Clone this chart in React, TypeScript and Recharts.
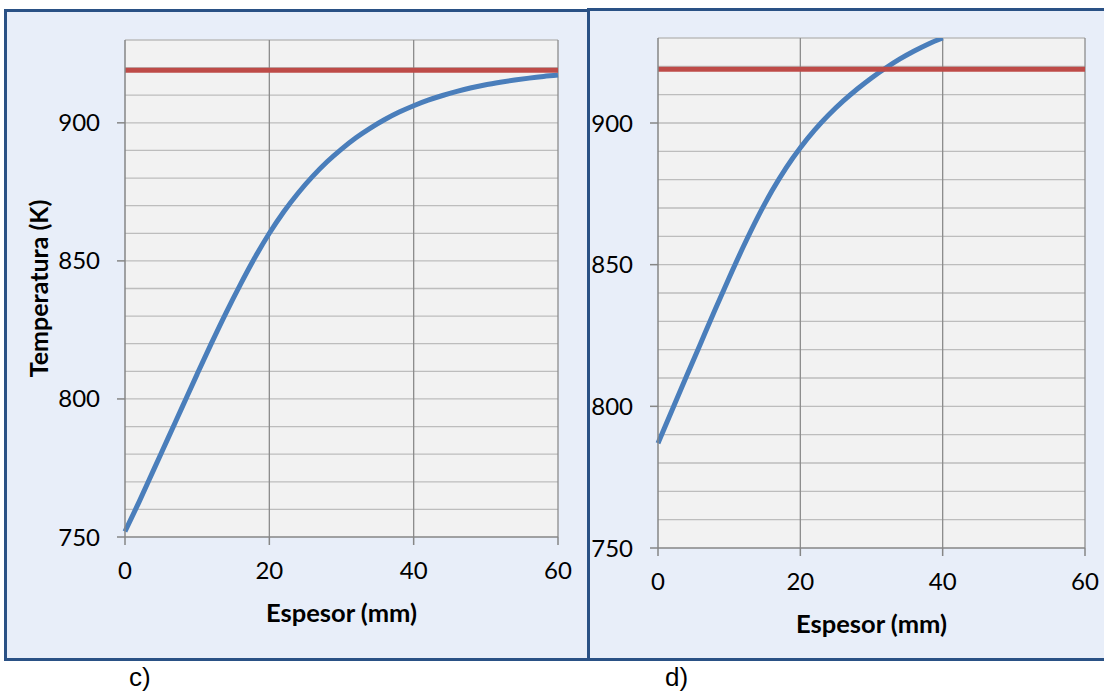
import { LineChart, CartesianGrid, XAxis, YAxis, Line, Label } from "recharts";

// espesor (mm) y temperatura (K)
const espesorC = [0, 2, 4, 6, 8, 10, 12, 14, 16, 18, 20, 22, 24, 26, 28, 30, 32, 34, 36, 38, 40, 42, 44, 46, 48, 50, 52, 54, 56, 58, 60];
const temperaturaC = [752, 763, 774.5, 786, 797.5, 809, 820.3, 831.2, 841.5, 851.2, 860, 867.8, 874.6, 880.6, 885.9, 890.5, 894.6, 898.1, 901.2, 903.9, 906.2, 908.2, 909.9, 911.4, 912.7, 913.8, 914.7, 915.5, 916.2, 916.8, 917.3];

const espesorD = [0, 2, 4, 6, 8, 10, 12, 14, 16, 18, 20, 22, 24, 26, 28, 30, 32, 34, 36, 38, 40];
const temperaturaD = [787, 798.8, 810.6, 822.3, 834, 845.4, 856.4, 866.7, 876, 884.2, 891.3, 897.5, 902.9, 907.7, 912, 915.9, 919.4, 922.6, 925.4, 927.9, 930];

const limiteX = [0, 60];
const limiteTemp = 919;

const xTicks = [0, 20, 40, 60];
const xGrid = [20, 40, 60];
const yTicks = [750, 800, 850, 900];
const yGrid = [760, 770, 780, 790, 800, 810, 820, 830, 840, 850, 860, 870, 880, 890, 900, 910, 920, 930];

const AXIS = "#868686";
const FONT = "Lato, 'Open Sans', sans-serif";

interface PanelChartProps {
	xs: number[];
	temps: number[];
	width: number;
	height: number;
	yAxisWidth: number;
	margin: { top: number; right: number; left: number; bottom: number };
	showYTitle?: boolean;
}

function PanelChart({ xs, temps, width, height, yAxisWidth, margin, showYTitle }: PanelChartProps) {
	const data = xs.map((x, i) => ({ x, t: temps[i] }));
	const limite = limiteX.map((x) => ({ x, t: limiteTemp }));

	return (
		<LineChart width={width} height={height} margin={margin} style={{ fontFamily: FONT }}>
			<CartesianGrid horizontalValues={yGrid} vertical={false} stroke="#bdbdbd" strokeWidth={1.3} fill="#f2f2f2" fillOpacity={1} />
			<CartesianGrid verticalValues={xGrid} horizontal={false} stroke="#8c8c8c" strokeWidth={1.3} />
			<XAxis
				type="number"
				dataKey="x"
				domain={[0, 60]}
				ticks={xTicks}
				height={100}
				tickSize={8}
				tickMargin={17}
				stroke={AXIS}
				strokeWidth={1.5}
				tick={{ fill: "#000", fontSize: 24, fontFamily: FONT }}
			>
				<Label
					content={(props: any) => {
						const vb = props.viewBox;
						return (
							<text x={vb.x + vb.width / 2} y={vb.y + 75} textAnchor="middle" dominantBaseline="central" fontWeight="bold" fontSize={25.5} fontFamily={FONT} fill="#000">
								Espesor (mm)
							</text>
						);
					}}
				/>
			</XAxis>
			<YAxis
				type="number"
				domain={[750, 930]}
				ticks={yTicks}
				allowDataOverflow
				width={yAxisWidth}
				tickSize={8}
				tickMargin={17}
				stroke={AXIS}
				strokeWidth={1.5}
				tick={{ fill: "#000", fontSize: 24, fontFamily: FONT }}
			>
				{showYTitle && (
					<Label
						content={(props: any) => {
							const vb = props.viewBox;
							const cx = vb.x + 33;
							const cy = vb.y + vb.height / 2;
							return (
								<text x={cx} y={cy} transform={`rotate(-90, ${cx}, ${cy})`} textAnchor="middle" dominantBaseline="central" fontWeight="bold" fontSize={25} fontFamily={FONT} fill="#000">
									Temperatura (K)
								</text>
							);
						}}
					/>
				)}
			</YAxis>
			<Line data={data} dataKey="t" type="monotone" stroke="#4a7ebb" strokeWidth={5} dot={false} isAnimationActive={false} />
			<Line data={limite} dataKey="t" type="linear" stroke="#be4b48" strokeWidth={5} dot={false} isAnimationActive={false} />
		</LineChart>
	);
}

export default function App() {
	const border = "3px solid #2a5185";
	const panelBg = "#e8eef9";
	const tagStyle = { position: "absolute" as const, top: 662, fontFamily: "'Liberation Sans', Arial, sans-serif", fontSize: 26 };
	return (
		<div style={{ position: "absolute", left: 0, top: 0, width: 1104, height: 694, overflow: "hidden", background: "#fff" }}>
			<div style={{ position: "absolute", left: 4, top: 9, width: 586, height: 652, border, boxSizing: "border-box", background: panelBg }} />
			<div style={{ position: "absolute", left: 587, top: 8, width: 530, height: 653, border, boxSizing: "border-box", background: panelBg }} />

			<div style={{ position: "absolute", left: 5, top: 10 }}>
				<PanelChart xs={espesorC} temps={temperaturaC} width={583} height={650} yAxisWidth={120} margin={{ top: 30, right: 30, left: 0, bottom: 23 }} showYTitle />
			</div>
			<div style={{ position: "absolute", left: 588, top: 8 }}>
				<PanelChart xs={espesorD} temps={temperaturaD} width={516} height={652} yAxisWidth={70} margin={{ top: 30, right: 19, left: 0, bottom: 12 }} />
			</div>

			<div style={{ ...tagStyle, left: 129 }}>c)</div>
			<div style={{ ...tagStyle, left: 665 }}>d)</div>
		</div>
	);
}
